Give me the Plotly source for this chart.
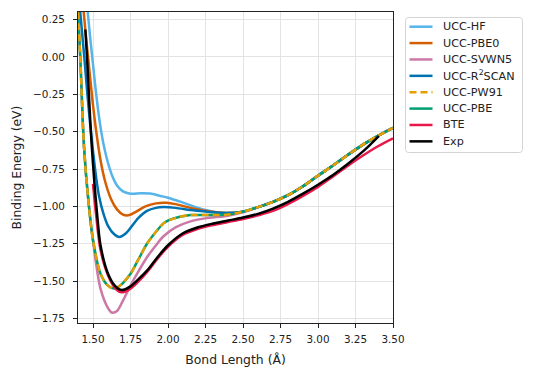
import plotly.graph_objects as go

# ---- data ----
hf_x = [1.462, 1.48, 1.50, 1.52, 1.54, 1.56, 1.58, 1.60, 1.63, 1.66, 1.70, 1.75, 1.82, 1.88, 1.95, 2.00, 2.10, 2.20, 2.30, 2.40, 2.50, 2.60, 2.70, 2.80, 2.90, 3.00, 3.10, 3.20, 3.30, 3.40, 3.50]
hf_y = [0.33, 0.14, -0.05, -0.24, -0.40, -0.53, -0.63, -0.71, -0.80, -0.86, -0.90, -0.915, -0.912, -0.914, -0.93, -0.942, -0.975, -1.01, -1.035, -1.045, -1.035, -1.005, -0.97, -0.925, -0.865, -0.795, -0.727, -0.655, -0.587, -0.528, -0.475]

pbe0_x = [1.435, 1.45, 1.47, 1.49, 1.51, 1.53, 1.55, 1.58, 1.62, 1.66, 1.70, 1.735, 1.78, 1.85, 1.92, 1.99, 2.05, 2.15, 2.25, 2.39, 2.50, 2.60, 2.70, 2.80, 2.90, 3.00, 3.10, 3.20, 3.30, 3.40, 3.50]
pbe0_y = [0.33, 0.17, -0.03, -0.23, -0.41, -0.56, -0.69, -0.83, -0.95, -1.02, -1.055, -1.06, -1.04, -1.0, -0.98, -0.976, -0.985, -1.01, -1.03, -1.045, -1.035, -1.005, -0.97, -0.925, -0.865, -0.795, -0.727, -0.655, -0.587, -0.528, -0.475]

svwn5_x = [1.40, 1.415, 1.44, 1.47, 1.50, 1.55, 1.60, 1.625, 1.66, 1.70, 1.75, 1.80, 1.86, 1.92, 1.97, 2.05, 2.15, 2.25, 2.40, 2.50, 2.60, 2.70, 2.80, 2.90, 3.00, 3.10, 3.20, 3.30, 3.40, 3.50]
svwn5_y = [0.30, 0.00, -0.60, -0.97, -1.23, -1.55, -1.68, -1.71, -1.70, -1.63, -1.53, -1.44, -1.34, -1.26, -1.20, -1.14, -1.10, -1.08, -1.062, -1.04, -1.005, -0.97, -0.925, -0.865, -0.795, -0.727, -0.655, -0.587, -0.528, -0.475]

r2scan_x = [1.412, 1.44, 1.46, 1.48, 1.50, 1.52, 1.54, 1.57, 1.60, 1.64, 1.675, 1.72, 1.80, 1.86, 1.92, 1.97, 2.05, 2.15, 2.25, 2.39, 2.50, 2.60, 2.70, 2.80, 2.90, 3.00, 3.10, 3.20, 3.30, 3.40, 3.50]
r2scan_y = [0.33, 0.02, -0.22, -0.44, -0.63, -0.80, -0.93, -1.05, -1.13, -1.185, -1.205, -1.18, -1.08, -1.03, -1.01, -1.005, -1.01, -1.025, -1.035, -1.045, -1.035, -1.005, -0.97, -0.925, -0.865, -0.795, -0.727, -0.655, -0.587, -0.528, -0.475]

pw91_x = [1.40, 1.415, 1.44, 1.47, 1.50, 1.55, 1.60, 1.64, 1.68, 1.75, 1.80, 1.86, 1.92, 1.97, 2.00, 2.08, 2.15, 2.25, 2.40, 2.50, 2.60, 2.70, 2.80, 2.90, 3.00, 3.10, 3.20, 3.30, 3.40, 3.50]
pw91_y = [0.30, 0.00, -0.60, -0.97, -1.225, -1.45, -1.53, -1.55, -1.53, -1.45, -1.36, -1.25, -1.17, -1.114, -1.095, -1.07, -1.058, -1.058, -1.055, -1.035, -1.005, -0.97, -0.925, -0.865, -0.795, -0.727, -0.655, -0.587, -0.528, -0.475]

pbe_x = pw91_x
pbe_y = pw91_y

bte_x = [1.50, 1.52, 1.55, 1.60, 1.65, 1.69, 1.75, 1.80, 1.86, 1.93, 2.00, 2.10, 2.20, 2.30, 2.40, 2.50, 2.60, 2.70, 2.80, 2.90, 3.00, 3.10, 3.20, 3.30, 3.40, 3.50]
bte_y = [-0.85, -1.05, -1.29, -1.46, -1.55, -1.575, -1.55, -1.505, -1.44, -1.35, -1.27, -1.19, -1.15, -1.125, -1.105, -1.085, -1.06, -1.03, -0.985, -0.93, -0.87, -0.80, -0.728, -0.66, -0.598, -0.545]

exp_x = [1.449, 1.46, 1.475, 1.49, 1.51, 1.53, 1.55, 1.60, 1.65, 1.69, 1.75, 1.80, 1.86, 1.93, 2.00, 2.10, 2.20, 2.30, 2.40, 2.50, 2.60, 2.70, 2.80, 2.90, 3.00, 3.10, 3.20, 3.30, 3.35, 3.405]
exp_y = [0.183, 0.00, -0.30, -0.57, -0.85, -1.08, -1.26, -1.45, -1.535, -1.56, -1.535, -1.49, -1.43, -1.34, -1.26, -1.18, -1.14, -1.115, -1.095, -1.075, -1.05, -1.015, -0.97, -0.915, -0.855, -0.79, -0.715, -0.632, -0.585, -0.53]

x_ticks = [1.50, 1.75, 2.00, 2.25, 2.50, 2.75, 3.00, 3.25, 3.50]
y_ticks = [-1.75, -1.50, -1.25, -1.00, -0.75, -0.50, -0.25, 0.00, 0.25]

# ---- figure ----
series = [
    # name, x, y, color, dash, legend rank
    ("UCC-HF", hf_x, hf_y, "#56B4E9", "solid", 1),
    ("UCC-PBE0", pbe0_x, pbe0_y, "#D55E00", "solid", 2),
    ("UCC-SVWN5", svwn5_x, svwn5_y, "#CC79A7", "solid", 3),
    ("UCC-R<sup>2</sup>SCAN", r2scan_x, r2scan_y, "#0072B2", "solid", 4),
    ("UCC-PBE", pbe_x, pbe_y, "#009E73", "solid", 6),
    ("UCC-PW91", pw91_x, pw91_y, "#E69F00", "7px,4px", 5),
    ("BTE", bte_x, bte_y, "#E8194A", "solid", 7),
    ("Exp", exp_x, exp_y, "#000000", "solid", 8),
]

fig = go.Figure()
for name, xs, ys, col, dash, rank in series:
    fig.add_trace(go.Scatter(
        x=xs, y=ys, name=name, mode="lines", showlegend=False,
        line=dict(color=col, width=2.5, dash=dash, shape="spline", smoothing=0.9),
    ))

# ---- legend box drawn in paper coordinates (matplotlib-like compact rows) ----
PX0, PX1, PY0, PY1 = 78.0, 393.0, 12.0, 323.0   # plot area in window pixels
def px_x(p):
    return (p - PX0) / (PX1 - PX0)
def px_y(p):
    return (PY1 - p) / (PY1 - PY0)

bx0, bx1, by0, by1, rad = 405.5, 522.5, 17.5, 152.5, 3.0
path = (f"M {px_x(bx0 + rad)},{px_y(by0)} L {px_x(bx1 - rad)},{px_y(by0)} "
        f"Q {px_x(bx1)},{px_y(by0)} {px_x(bx1)},{px_y(by0 + rad)} "
        f"L {px_x(bx1)},{px_y(by1 - rad)} Q {px_x(bx1)},{px_y(by1)} {px_x(bx1 - rad)},{px_y(by1)} "
        f"L {px_x(bx0 + rad)},{px_y(by1)} Q {px_x(bx0)},{px_y(by1)} {px_x(bx0)},{px_y(by1 - rad)} "
        f"L {px_x(bx0)},{px_y(by0 + rad)} Q {px_x(bx0)},{px_y(by0)} {px_x(bx0 + rad)},{px_y(by0)} Z")
fig.add_shape(type="path", path=path, xref="paper", yref="paper",
              line=dict(color="#d4d4d4", width=1), fillcolor="white", layer="above")

legend_items = sorted(series, key=lambda s: s[5])
row0, row_step = 26.7, 16.38
for i, (name, xs, ys, col, dash, rank) in enumerate(legend_items):
    yc = row0 + i * row_step
    fig.add_shape(type="line", xref="paper", yref="paper",
                  x0=px_x(409.5), x1=px_x(432.5), y0=px_y(yc), y1=px_y(yc),
                  line=dict(color=col, width=2.5, dash=dash), layer="above")
    fig.add_annotation(x=px_x(441.5), y=px_y(yc), xref="paper", yref="paper",
                       text=name, showarrow=False, xanchor="left", yanchor="middle",
                       font=dict(size=11.2, color="#222", family="DejaVu Sans"))

axis_common = dict(
    showline=True, linecolor="#222", linewidth=1, mirror=True,
    ticks="outside", ticklen=4, tickcolor="#222", tickwidth=1,
    showgrid=True, gridcolor="#e3e3e3", gridwidth=1,
    zeroline=False, tickfont=dict(size=10.4, color="#222"),
    tickformat=".2f", automargin=False,
)

# page body has an 8px margin, so the figure is 8px smaller than the window
fig.update_layout(
    width=526, height=372,
    margin=dict(l=70, r=141, t=4, b=57, autoexpand=False),
    paper_bgcolor="white", plot_bgcolor="white",
    font=dict(family="DejaVu Sans", size=10.4, color="#222"),
    xaxis=dict(range=[1.4, 3.5], tickvals=x_ticks, ticklabelstandoff=3,
               title=dict(text="Bond Length (Å)", font=dict(size=12.4), standoff=10),
               **axis_common),
    yaxis=dict(range=[-1.78, 0.30], tickvals=y_ticks, ticklabelstandoff=6,
               title=dict(text="Binding Energy (eV)", font=dict(size=12.4), standoff=8),
               **axis_common),
    showlegend=False,
)

fig.write_html("out.html")
